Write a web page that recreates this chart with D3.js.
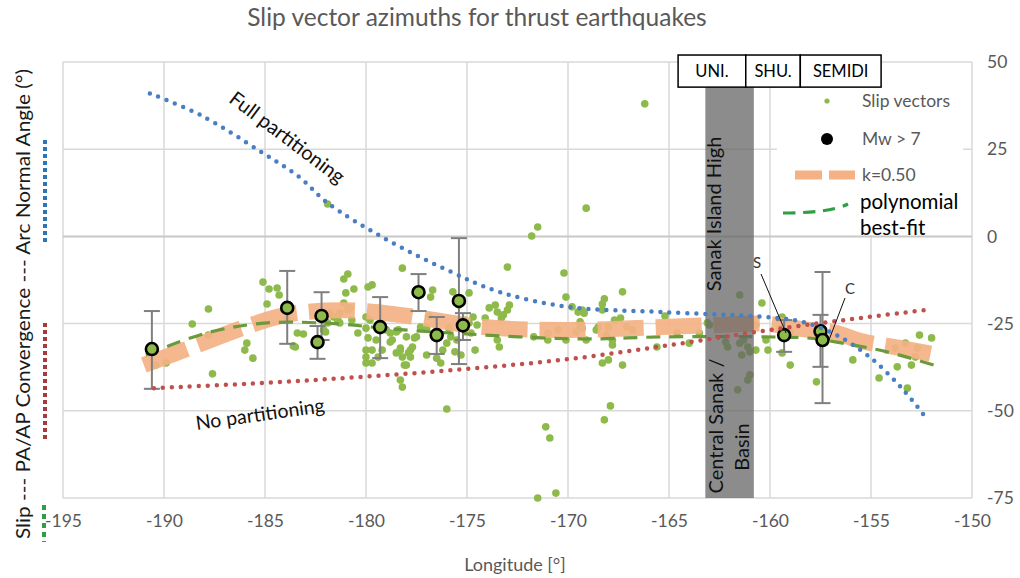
<!DOCTYPE html>
<html><head><meta charset="utf-8">
<script src="https://cdn.jsdelivr.net/npm/d3@7"></script>
<style>
body{margin:0;background:#fff}
text{font-family:Lato,"Open Sans",sans-serif}
</style>
</head><body>
<svg id="c" width="1020" height="578"></svg>
<script>
// ---------- data ----------
const xTicks = [-195,-190,-185,-180,-175,-170,-165,-160,-155,-150];
const yTicks = [50,25,0,-25,-50,-75];

const slipLon = [-190.6,-190.4,-189.9,-188.6,-187.8,-187.8,-187.6,-185.9,-186.0,-185.6,-185.1,-184.9,-184.8,-184.4,-184.3,-183.9,-183.6,-183.4,-183.1,-182.0,
-182.0,-181.6,-181.4,-181.3,-181.1,-181.0,-181.1,-180.9,-180.6,-180.9,-180.7,-181.3,-180.4,-179.9,-180.0,-180.0,-181.9,-181.8,-182.1,-181.9,
-180.8,-180.0,-179.8,-180.0,-179.7,-179.9,-179.7,-180.0,-179.7,-179.5,-179.4,-179.2,-178.8,-178.8,-179.0,-178.5,-178.3,-178.2,-178.5,-178.1,
-177.9,-177.8,-177.7,-178.0,-177.6,-178.2,-178.3,-178.2,-183.5,-176.8,-176.7,-175.7,-174.9,-175.4,-176.9,-177.3,-177.5,-177.0,-178.4,-178.7,
-178.3,-177.8,-178.0,-177.0,-176.5,-176.2,-176.0,-175.9,-175.8,-175.5,-175.3,-176.3,-175.6,-175.1,-175.1,-174.9,-174.7,-174.5,-174.8,-174.6,
-174.1,-173.9,-173.6,-173.5,-173.2,-173.0,-172.9,-173.3,-173.5,-173.4,-173.0,-171.0,-171.0,-170.5,-170.2,-170.1,-169.8,-169.5,-169.1,-171.5,
-171.8,-169.3,-169.2,-168.2,-168.3,-168.3,-167.3,-167.4,-167.1,-166.8,-169.4,-169.4,-169.3,-169.6,-168.6,-168.5,-168.0,-168.1,-167.8,-167.8,
-167.7,-171.7,-170.1,-169.1,-168.3,-168.0,-167.3,-165.6,-165.2,-164.6,-164.0,-163.5,-163.1,-163.0,-161.5,-161.3,-161.4,-161.1,-161.0,-161.0,
-161.1,-161.6,-162.1,-160.4,-160.1,-160.7,-160.2,-162.2,-161.5,-160.7,-159.4,-159.4,-159.0,-159.0,-159.5,-157.7,-157.5,-157.4,-157.3,-157.4,
-155.9,-154.6,-153.8,-153.7,-153.3,-153.2,-153.0,-152.8,-152.7,-152.6,-152.0,-176.0,-171.1,-170.9,-171.5,-170.6,-167.9,-168.2,-166.2];
const slipAz = [-33.1,-36.9,-36.3,-25.1,-20.8,-28.3,-39.4,-30.6,-32.6,-34.9,-13.1,-19.4,-15.1,-14.8,-16.8,-23.7,-31.4,-27.7,-28.0,-27.4,
-24.5,-23.1,-24.0,-22.0,-19.1,-16.2,-12.2,-10.8,-15.1,-21.1,-24.0,-24.8,-27.7,-14.5,-32.6,-36.3,9.3,-22.0,-26.8,-24.8,
-20.5,-23.1,-24.0,-26.3,-13.9,-29.1,-32.6,-34.6,-36.3,-29.7,-34.6,-32.6,-27.7,-30.3,-26.8,-27.4,-32.6,-34.6,-33.4,-36.9,
-33.4,-32.6,-31.7,-28.8,-29.1,-9.1,-41.2,-43.2,-31.7,-17.4,-15.4,-15.9,-16.2,-19.7,-22.8,-26.0,-28.8,-26.3,-26.8,-29.7,
-32.0,-34.6,-36.9,-34.0,-34.9,-32.6,-30.6,-26.3,-28.8,-29.7,-34.0,-36.3,-33.1,-26.8,-24.0,-24.8,-23.1,-25.4,-27.7,-32.6,
-23.4,-20.5,-19.7,-21.7,-22.5,-21.1,-19.7,-23.4,-29.7,-31.7,-8.8,-27.7,-29.7,-26.8,-10.5,-17.4,-20.2,-21.7,8.1,2.7,
0.1,-21.1,-22.0,-17.9,-19.4,-21.1,-15.9,-23.4,-26.0,-26.8,-24.5,-26.0,-26.3,-27.4,-26.8,-26.0,-26.0,-28.3,-29.7,-31.1,
-24.0,-28.8,-29.7,-29.7,-36.3,-35.4,-36.9,-31.7,-22.8,-27.7,-30.6,-27.7,-24.8,-25.4,-16.8,-29.7,-34.0,-31.7,-33.1,-39.7,
-41.2,-44.0,-31.7,-19.1,-32.6,-25.4,-29.7,-30.3,-30.6,-32.6,-23.1,-33.4,-36.9,-27.4,-26.3,-41.7,-26.8,-27.7,-28.8,-30.3,
-35.4,-40.6,-32.0,-37.4,-30.6,-43.5,-36.9,-34.6,-32.0,-28.3,-29.1,-49.5,-54.6,-57.8,-75.0,-73.6,-48.6,-52.6,38.0];

// Mw > 7 events with error bars
const mwLon = [-190.6,-183.9,-182.4,-182.2,-179.3,-177.4,-176.5,-175.4,-175.2,-159.3,-157.5,-157.4];
const mwAz  = [-32.3,-20.5,-30.3,-22.8,-26.0,-16.0,-28.3,-18.5,-25.5,-28.3,-27.2,-29.7];
const mwLo  = [-43.7,-30.8,-35.1,-29.7,-34.9,-21.4,-33.7,-36.6,-29.7,-33.1,-37.4,-47.8];
const mwHi  = [-21.4,-9.9,-25.7,-16.0,-17.4,-10.8,-23.1,-0.5,-22.0,-24.0,-22.5,-10.2];

// Full partitioning (arc normal)
const fullLon = [-190.7,-188.2,-185.1,-183.3,-181.9,-179.2,-176.0,-173.4,-170.0,-165.3,-160.3,-158.4,-156.7,-155.0,-153.4,-152.2];
const fullAz  = [41.0,34.8,23.9,17.0,9.6,-0.2,-9.6,-15.9,-20.2,-21.7,-23.1,-24.5,-28.3,-34.9,-44.0,-52.6];

// No partitioning (PA/AP convergence)
const noLon = [-190.5,-185,-180,-175,-170,-165,-160,-155,-152.3];
const noAz  = [-43.5,-42.0,-40.2,-38.0,-35.2,-31.2,-26.8,-23.0,-21.1];

// k = 0.50 model
const kLon = [-191.0,-188.5,-186.0,-183.8,-181.0,-178.3,-174.2,-170.0,-165.3,-162.6,-160.3,-158.5,-156.7,-155.5,-153.5,-151.7];
const kAz  = [-36.9,-31.5,-26.0,-22.3,-21.2,-22.5,-26.0,-26.8,-26.0,-25.4,-25.0,-26.5,-27.7,-30.0,-32.0,-34.0];

// polynomial best-fit
const polyLon = [-190.9,-187.9,-184.9,-181.3,-179.2,-175.8,-169.4,-165.3,-160.3,-158.0,-156.7,-154.2,-151.9];
const polyAz  = [-34.0,-27.7,-24.8,-25.1,-26.3,-27.7,-29.4,-28.8,-28.8,-29.2,-30.3,-33.1,-36.9];

// segment boxes and shaded basin
const segNames = ["UNI.","SHU.","SEMIDI"];
const segStart = [-164.55,-161.2,-158.5];
const segEnd   = [-161.2,-158.5,-154.5];
const boxTop = 52, boxBottom = 42.8;
const basinStart = -163.2, basinEnd = -160.8;

// ---------- drawing ----------
const svg = d3.select("#c");
const x = d3.scaleLinear([-195,-150],[63,972]);
const y = d3.scaleLinear([50,-75],[62,498]);

// title
svg.append("text").attr("x",477).attr("y",26).attr("text-anchor","middle")
  .attr("font-size",24.5).attr("fill","#595959").text("Slip vector azimuths for thrust earthquakes");

// grid
const g = svg.append("g");
g.selectAll(".vg").data(xTicks).join("line")
  .attr("x1",d=>x(d)).attr("x2",d=>x(d)).attr("y1",y(50)).attr("y2",y(-75))
  .attr("stroke","#d9d9d9").attr("stroke-width",1.5);
g.selectAll(".hg").data(yTicks).join("line")
  .attr("x1",x(-195)).attr("x2",x(-150)).attr("y1",d=>y(d)).attr("y2",d=>y(d))
  .attr("stroke",d=>d===0?"#c8c8c8":"#d9d9d9").attr("stroke-width",d=>d===0?2:1.5);

// axes
const xa = svg.append("g").attr("transform",`translate(0,${y(-75)})`)
  .call(d3.axisBottom(x).tickValues(xTicks).tickSize(0).tickPadding(17).tickFormat(d=>String(d)));
xa.select(".domain").remove();
xa.selectAll("text").attr("font-size",17.5).attr("fill","#595959").attr("font-family","Lato,'Open Sans',sans-serif");
const ya = svg.append("g").attr("transform",`translate(${x(-150)},0)`)
  .call(d3.axisRight(y).tickValues(yTicks).tickSize(0).tickPadding(15).tickFormat(d=>String(d)));
ya.select(".domain").remove();
ya.selectAll("text").attr("font-size",17.5).attr("fill","#595959").attr("font-family","Lato,'Open Sans',sans-serif");

svg.append("text").attr("x",515).attr("y",571).attr("text-anchor","middle")
  .attr("font-size",18).attr("fill","#595959").text("Longitude [°]");

// left label
svg.append("text").attr("transform","translate(30,304) rotate(-90)").attr("text-anchor","middle")
  .attr("font-size",19).attr("fill","#1a1a1a").attr("textLength",470).attr("lengthAdjust","spacingAndGlyphs")
  .text("Slip --- PA/AP Convergence --- Arc Normal Angle (°)");
svg.append("line").attr("x1",45).attr("x2",45).attr("y1",140).attr("y2",245)
  .attr("stroke","#2E75B6").attr("stroke-width",4).attr("stroke-dasharray","4,3");
svg.append("line").attr("x1",45).attr("x2",45).attr("y1",323).attr("y2",440)
  .attr("stroke","#A83A3A").attr("stroke-width",4).attr("stroke-dasharray","4,3");
svg.append("line").attr("x1",44).attr("x2",44).attr("y1",505).attr("y2",542)
  .attr("stroke","#2EA043").attr("stroke-width",4).attr("stroke-dasharray","5,4");

// legend background
svg.append("rect").attr("x",777).attr("y",63).attr("width",186).attr("height",172).attr("fill","#fff");

// scatter
svg.append("g").selectAll("circle").data(slipLon).join("circle")
  .attr("cx",d=>x(d)).attr("cy",(d,i)=>y(slipAz[i])).attr("r",3.8).attr("fill","#8DBA4A");

// k=0.50
const line = (xs,ys,curve)=>d3.line().x((d,i)=>x(xs[i])).y((d,i)=>y(ys[i])).curve(curve)(xs);
svg.append("path").attr("d",line(kLon,kAz,d3.curveCatmullRom)).attr("fill","none")
  .attr("stroke","#F4B183").attr("stroke-width",16).attr("stroke-dasharray","46,12").attr("opacity",0.92);

// polynomial
svg.append("path").attr("d",line(polyLon,polyAz,d3.curveCatmullRom)).attr("fill","none")
  .attr("stroke","#6A9A3A").attr("stroke-width",3.2).attr("stroke-dasharray","14,9");

// Mw > 7 error bars + markers
const mw = svg.append("g");
mwLon.forEach((lon,i)=>{
  const cx = x(lon);
  mw.append("line").attr("x1",cx).attr("x2",cx).attr("y1",y(mwLo[i])).attr("y2",y(mwHi[i])).attr("stroke","#7f7f7f").attr("stroke-width",2);
  [mwLo[i],mwHi[i]].forEach(v=>mw.append("line").attr("x1",cx-8).attr("x2",cx+8).attr("y1",y(v)).attr("y2",y(v)).attr("stroke","#7f7f7f").attr("stroke-width",2));
});
mw.selectAll("circle").data(mwLon).join("circle")
  .attr("cx",d=>x(d)).attr("cy",(d,i)=>y(mwAz[i])).attr("r",6)
  .attr("fill","#8DBA4A").attr("stroke","#000").attr("stroke-width",2.6);

// basin band
svg.append("rect").attr("x",x(basinStart)).attr("width",x(basinEnd)-x(basinStart))
  .attr("y",y(boxBottom)).attr("height",y(-75)-y(boxBottom)).attr("fill","#666").attr("opacity",0.75);

// full / no partitioning
svg.append("path").attr("d",line(fullLon,fullAz,d3.curveCatmullRom)).attr("fill","none")
  .attr("stroke","#4A7EC2").attr("stroke-width",4.5).attr("stroke-linecap","round").attr("stroke-dasharray","0,9");
svg.append("path").attr("d",line(noLon,noAz,d3.curveCatmullRom)).attr("fill","none")
  .attr("stroke","#C0504D").attr("stroke-width",4.5).attr("stroke-linecap","round").attr("stroke-dasharray","0,9");

svg.append("text").attr("transform","translate(283,143) rotate(37)").attr("text-anchor","middle")
  .attr("font-size",20).attr("fill","#111").text("Full partitioning");
svg.append("text").attr("transform","translate(261,421) rotate(-8)").attr("text-anchor","middle")
  .attr("font-size",19.5).attr("fill","#111").text("No partitioning");

// band texts
const bx = (x(basinStart)+x(basinEnd))/2;
svg.append("text").attr("transform",`translate(${bx-9},214) rotate(-90)`).attr("text-anchor","middle")
  .attr("font-size",20).attr("fill","#111").text("Sanak Island High");
svg.append("text").attr("transform",`translate(${bx-7},426) rotate(-90)`).attr("text-anchor","middle")
  .attr("font-size",20).attr("fill","#111").text("Central Sanak /");
svg.append("text").attr("transform",`translate(${bx+19},447) rotate(-90)`).attr("text-anchor","middle")
  .attr("font-size",20).attr("fill","#111").text("Basin");

// S and C labels
svg.append("text").attr("x",757).attr("y",268).attr("text-anchor","middle").attr("font-size",15).attr("fill","#333").text("S");
svg.append("line").attr("x1",761).attr("y1",274).attr("x2",786).attr("y2",333).attr("stroke","#111").attr("stroke-width",1);
svg.append("text").attr("x",850).attr("y",294).attr("text-anchor","middle").attr("font-size",15).attr("fill","#333").text("C");
svg.append("line").attr("x1",845).attr("y1",298).attr("x2",829).attr("y2",340).attr("stroke","#111").attr("stroke-width",1);

// segment boxes
segNames.forEach((n,i)=>{
  svg.append("rect").attr("x",x(segStart[i])).attr("y",y(boxTop)).attr("width",x(segEnd[i])-x(segStart[i]))
    .attr("height",y(boxBottom)-y(boxTop)).attr("fill","#fff").attr("stroke","#000").attr("stroke-width",1.5);
  svg.append("text").attr("x",(x(segStart[i])+x(segEnd[i]))/2).attr("y",y(boxTop)+22).attr("text-anchor","middle")
    .attr("font-size",16.5).attr("fill","#000").text(n);
});

// legend
const L = svg.append("g");
L.append("circle").attr("cx",827).attr("cy",101).attr("r",2.6).attr("fill","#8DBA4A");
L.append("circle").attr("cx",827).attr("cy",139).attr("r",6).attr("fill","#000");
L.append("line").attr("x1",795).attr("x2",855).attr("y1",175).attr("y2",175)
  .attr("stroke","#F4B183").attr("stroke-width",9).attr("stroke-dasharray","27,7");
L.append("path").attr("d","M783,213 Q830,213 848,204").attr("fill","none")
  .attr("stroke","#2EA043").attr("stroke-width",3.2).attr("stroke-dasharray","12,8");
[["Slip vectors",107],["Mw > 7",145],["k=0.50",181]].forEach(([t,yy])=>
  L.append("text").attr("x",862).attr("y",yy).attr("font-size",17.5).attr("fill","#595959").text(t));
L.append("text").attr("x",860).attr("y",209).attr("font-size",20.5).attr("fill","#000").text("polynomial");
L.append("text").attr("x",860).attr("y",235).attr("font-size",20.5).attr("fill","#000").text("best-fit");
</script>
</body></html>
